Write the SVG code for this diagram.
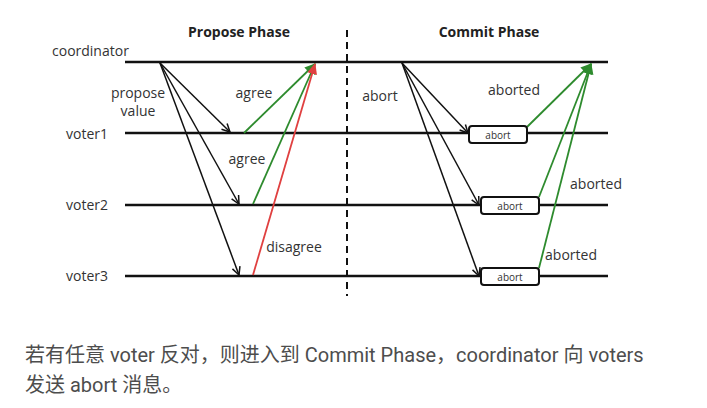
<svg xmlns="http://www.w3.org/2000/svg" width="707" height="408" viewBox="0 0 707 408">
<style>
.t{font-family:"Open Sans","Liberation Sans",sans-serif;font-size:14px;fill:#333}
.b{font-family:"Open Sans","Liberation Sans",sans-serif;font-size:14px;font-weight:bold;fill:#222}
.s{font-family:"Open Sans","Liberation Sans",sans-serif;font-size:10px;fill:#333}
.life{stroke:#111;stroke-width:2.5}
.msg{stroke:#111;stroke-width:1.5;fill:none}
.g{stroke:#2e8b2e;stroke-width:1.8;fill:none}
.r{stroke:#e04040;stroke-width:1.8;fill:none}
.box{fill:#fff;stroke:#111;stroke-width:2}
.cap{font-family:Roboto,"Noto Sans CJK SC",sans-serif;font-size:20px;fill:#4d4d4d}
</style>
<defs>
<marker id="ab" markerWidth="10" markerHeight="10" refX="9" refY="5" orient="auto" markerUnits="userSpaceOnUse"><path d="M1,1 L9,5 L1,9" fill="none" stroke="#111" stroke-width="1.5"/></marker>
<marker id="ag" markerWidth="12" markerHeight="12" refX="10" refY="6" orient="auto" markerUnits="userSpaceOnUse"><path d="M0,1 L11,6 L0,11 Z" fill="#2e8b2e"/></marker>
<marker id="ar" markerWidth="12" markerHeight="12" refX="10" refY="6" orient="auto" markerUnits="userSpaceOnUse"><path d="M0,1 L11,6 L0,11 Z" fill="#e04040"/></marker>
</defs>
<rect width="707" height="408" fill="#fff"/>
<g id="titles">
<text class="b" x="239" y="37" text-anchor="middle">Propose Phase</text>
<text class="b" x="489" y="37" text-anchor="middle">Commit Phase</text>
</g>
<g id="coordinator"><text class="t" x="52" y="56">coordinator</text><line class="life" x1="125" y1="62" x2="608" y2="62"/></g>
<g id="voter1"><text class="t" x="66" y="139">voter1</text><line class="life" x1="125" y1="133" x2="608" y2="133"/></g>
<g id="voter2"><text class="t" x="66" y="210">voter2</text><line class="life" x1="125" y1="205" x2="608" y2="205"/></g>
<g id="voter3"><text class="t" x="66" y="281">voter3</text><line class="life" x1="125" y1="276" x2="608" y2="276"/></g>
<g id="divider"><line x1="347" y1="30" x2="347" y2="296" stroke="#111" stroke-width="2" stroke-dasharray="7,5"/></g>
<g id="connectors">
<line class="msg" x1="160" y1="63" x2="230" y2="132" marker-end="url(#ab)"/>
<line class="msg" x1="160" y1="63" x2="239" y2="204" marker-end="url(#ab)"/>
<line class="msg" x1="160" y1="63" x2="239" y2="275" marker-end="url(#ab)"/>
<line class="g" x1="244" y1="133" x2="315" y2="64" marker-end="url(#ag)"/>
<line class="g" x1="253" y1="204" x2="315" y2="64" marker-end="url(#ag)"/>
<line class="r" x1="253" y1="275" x2="315" y2="64" marker-end="url(#ar)"/>
<line class="msg" x1="402" y1="63" x2="468" y2="133" marker-end="url(#ab)"/>
<line class="msg" x1="402" y1="63" x2="479" y2="205" marker-end="url(#ab)"/>
<line class="msg" x1="402" y1="63" x2="479" y2="276" marker-end="url(#ab)"/>
<line class="g" x1="527" y1="127" x2="591" y2="64" marker-end="url(#ag)"/>
<line class="g" x1="539" y1="197" x2="591" y2="64" marker-end="url(#ag)"/>
<line class="g" x1="539" y1="268" x2="591" y2="64" marker-end="url(#ag)"/>
</g>
<g id="labels">
<text class="t" x="138" y="98" text-anchor="middle">propose</text>
<text class="t" x="138" y="116" text-anchor="middle">value</text>
<text class="t" x="254" y="98" text-anchor="middle">agree</text>
<text class="t" x="247" y="164" text-anchor="middle">agree</text>
<text class="t" x="294" y="252" text-anchor="middle">disagree</text>
<text class="t" x="380" y="101" text-anchor="middle">abort</text>
<text class="t" x="514" y="95" text-anchor="middle">aborted</text>
<text class="t" x="596" y="189" text-anchor="middle">aborted</text>
<text class="t" x="571" y="260" text-anchor="middle">aborted</text>
</g>
<g id="abort1"><rect class="box" x="469" y="126" width="58" height="17" rx="3"/><text class="s" x="498" y="138.5" text-anchor="middle">abort</text></g>
<g id="abort2"><rect class="box" x="481" y="197" width="58" height="17" rx="3"/><text class="s" x="510" y="209.5" text-anchor="middle">abort</text></g>
<g id="abort3"><rect class="box" x="481" y="268" width="58" height="17" rx="3"/><text class="s" x="510" y="280.5" text-anchor="middle">abort</text></g>
<g id="caption">
<text class="cap" x="25" y="362">若有任意 voter 反对，则进入到 Commit Phase，coordinator 向 voters</text>
<text class="cap" x="25" y="392">发送 abort 消息。</text>
</g>
</svg>
